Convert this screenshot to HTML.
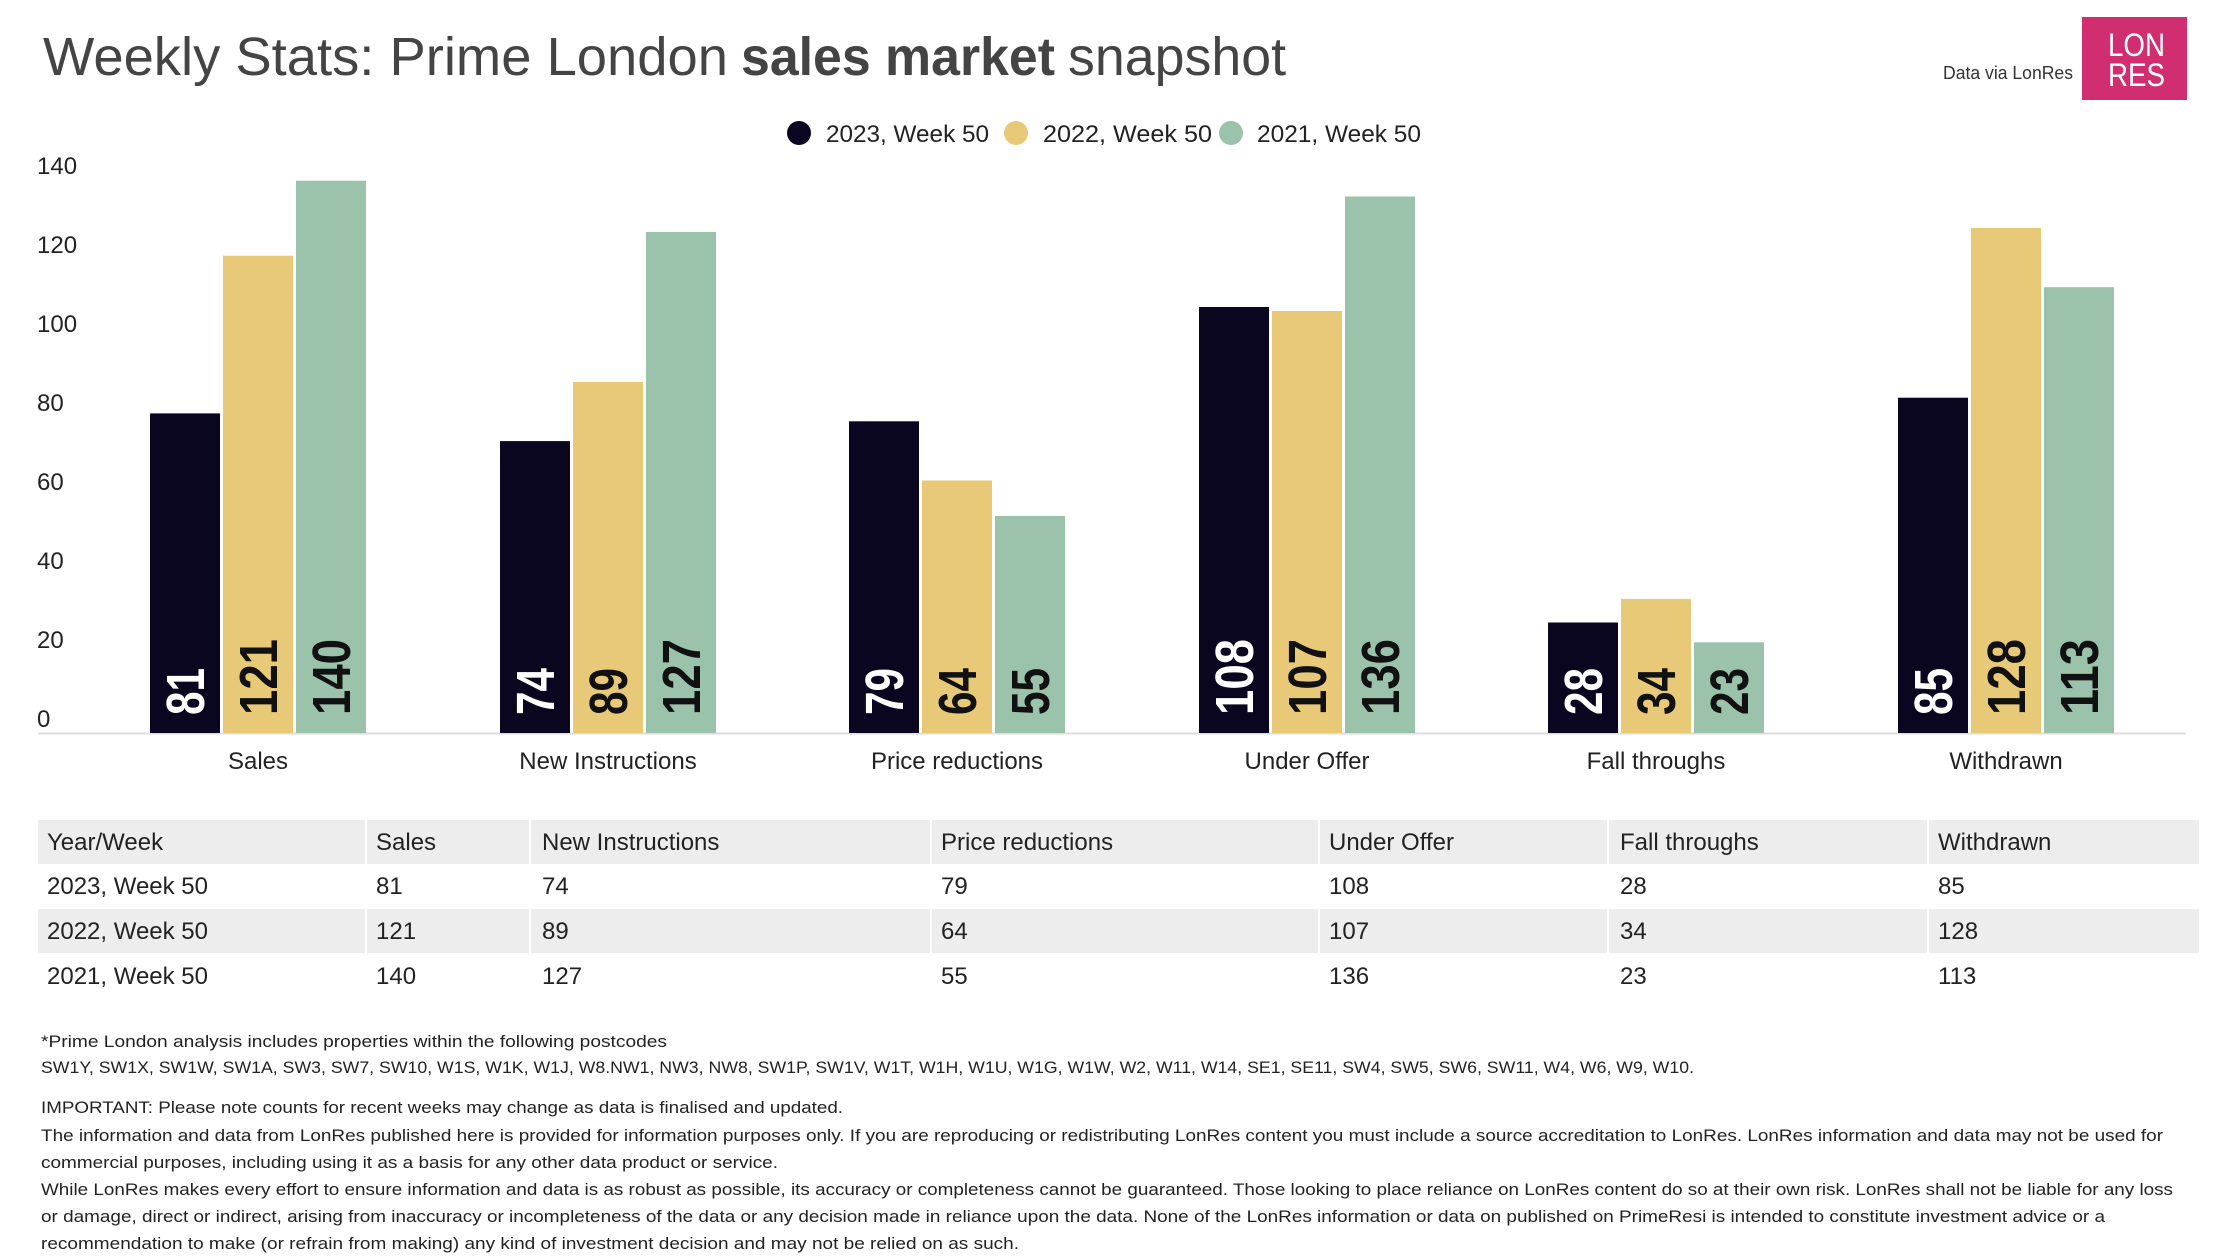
<!DOCTYPE html>
<html><head><meta charset="utf-8"><style>
html,body{margin:0;padding:0;background:#fff;}
svg{display:block;font-family:"Liberation Sans",sans-serif;}
</style></head><body>
<svg width="2222" height="1258" viewBox="0 0 2222 1258" xmlns="http://www.w3.org/2000/svg">
<rect width="2222" height="1258" fill="#fff"/>
<text x="43" y="75" font-size="54" fill="#444" textLength="685" lengthAdjust="spacingAndGlyphs">Weekly Stats: Prime London</text>
<text x="741" y="75" font-size="54" font-weight="bold" fill="#444" textLength="314" lengthAdjust="spacingAndGlyphs">sales market</text>
<text x="1068" y="75" font-size="54" fill="#444" textLength="218" lengthAdjust="spacingAndGlyphs">snapshot</text>
<text x="1943" y="79" font-size="18" fill="#333" textLength="130" lengthAdjust="spacingAndGlyphs">Data via LonRes</text>
<rect x="2082" y="17" width="105" height="83" fill="#d12e72"/>
<text x="2108" y="56" font-size="32" fill="#fff" textLength="57" lengthAdjust="spacingAndGlyphs">LON</text>
<text x="2108" y="86" font-size="32" fill="#fff" textLength="57" lengthAdjust="spacingAndGlyphs">RES</text>
<circle cx="799" cy="133" r="12" fill="#0a0620"/>
<text x="826" y="142" font-size="24" fill="#222" textLength="163" lengthAdjust="spacingAndGlyphs">2023, Week 50</text>
<circle cx="1016" cy="133" r="12" fill="#e8c977"/>
<text x="1043" y="142" font-size="24" fill="#222" textLength="169" lengthAdjust="spacingAndGlyphs">2022, Week 50</text>
<circle cx="1231" cy="133" r="12" fill="#9bc2aa"/>
<text x="1257" y="142" font-size="24" fill="#222" textLength="164" lengthAdjust="spacingAndGlyphs">2021, Week 50</text>
<g font-size="24" fill="#222">
<text x="37" y="174">140</text>
<text x="37" y="253">120</text>
<text x="37" y="332">100</text>
<text x="37" y="411">80</text>
<text x="37" y="490">60</text>
<text x="37" y="569">40</text>
<text x="37" y="648">20</text>
<text x="37" y="727">0</text>
</g>
<line x1="38" y1="733.5" x2="2186" y2="733.5" stroke="#ddd" stroke-width="2"/>
<g>
<rect x="150" y="413.4" width="70" height="319.6" fill="#0a0620"/>
<rect x="223" y="255.7" width="70" height="477.3" fill="#e8c977"/>
<rect x="296" y="180.7" width="70" height="552.3" fill="#9bc2aa"/>
<rect x="500" y="441.1" width="70" height="291.9" fill="#0a0620"/>
<rect x="573" y="381.9" width="70" height="351.1" fill="#e8c977"/>
<rect x="646" y="232" width="70" height="501" fill="#9bc2aa"/>
<rect x="849" y="421.3" width="70" height="311.7" fill="#0a0620"/>
<rect x="922" y="480.5" width="70" height="252.5" fill="#e8c977"/>
<rect x="995" y="516" width="70" height="217" fill="#9bc2aa"/>
<rect x="1199" y="307" width="70" height="426" fill="#0a0620"/>
<rect x="1272" y="311" width="70" height="422" fill="#e8c977"/>
<rect x="1345" y="196.5" width="70" height="536.5" fill="#9bc2aa"/>
<rect x="1548" y="622.5" width="70" height="110.5" fill="#0a0620"/>
<rect x="1621" y="598.9" width="70" height="134.1" fill="#e8c977"/>
<rect x="1694" y="642.3" width="70" height="90.7" fill="#9bc2aa"/>
<rect x="1898" y="397.7" width="70" height="335.3" fill="#0a0620"/>
<rect x="1971" y="228" width="70" height="505" fill="#e8c977"/>
<rect x="2044" y="287.2" width="70" height="445.8" fill="#9bc2aa"/>
</g>
<g font-size="54" font-weight="bold">
<text transform="translate(204,715) rotate(-90)" fill="#fff" textLength="47" lengthAdjust="spacingAndGlyphs">81</text>
<text transform="translate(277,715) rotate(-90)" fill="#111" textLength="76" lengthAdjust="spacingAndGlyphs">121</text>
<text transform="translate(350,715) rotate(-90)" fill="#111" textLength="76" lengthAdjust="spacingAndGlyphs">140</text>
<text transform="translate(554,715) rotate(-90)" fill="#fff" textLength="47" lengthAdjust="spacingAndGlyphs">74</text>
<text transform="translate(627,715) rotate(-90)" fill="#111" textLength="47" lengthAdjust="spacingAndGlyphs">89</text>
<text transform="translate(700,715) rotate(-90)" fill="#111" textLength="76" lengthAdjust="spacingAndGlyphs">127</text>
<text transform="translate(903,715) rotate(-90)" fill="#fff" textLength="47" lengthAdjust="spacingAndGlyphs">79</text>
<text transform="translate(976,715) rotate(-90)" fill="#111" textLength="47" lengthAdjust="spacingAndGlyphs">64</text>
<text transform="translate(1049,715) rotate(-90)" fill="#111" textLength="47" lengthAdjust="spacingAndGlyphs">55</text>
<text transform="translate(1253,715) rotate(-90)" fill="#fff" textLength="76" lengthAdjust="spacingAndGlyphs">108</text>
<text transform="translate(1326,715) rotate(-90)" fill="#111" textLength="76" lengthAdjust="spacingAndGlyphs">107</text>
<text transform="translate(1399,715) rotate(-90)" fill="#111" textLength="76" lengthAdjust="spacingAndGlyphs">136</text>
<text transform="translate(1602,715) rotate(-90)" fill="#fff" textLength="47" lengthAdjust="spacingAndGlyphs">28</text>
<text transform="translate(1675,715) rotate(-90)" fill="#111" textLength="47" lengthAdjust="spacingAndGlyphs">34</text>
<text transform="translate(1748,715) rotate(-90)" fill="#111" textLength="47" lengthAdjust="spacingAndGlyphs">23</text>
<text transform="translate(1952,715) rotate(-90)" fill="#fff" textLength="47" lengthAdjust="spacingAndGlyphs">85</text>
<text transform="translate(2025,715) rotate(-90)" fill="#111" textLength="76" lengthAdjust="spacingAndGlyphs">128</text>
<text transform="translate(2098,715) rotate(-90)" fill="#111" textLength="76" lengthAdjust="spacingAndGlyphs">113</text>
</g>
<g font-size="24" fill="#222" text-anchor="middle">
<text x="258" y="769">Sales</text>
<text x="608" y="769">New Instructions</text>
<text x="957" y="769">Price reductions</text>
<text x="1307" y="769">Under Offer</text>
<text x="1656" y="769">Fall throughs</text>
<text x="2006" y="769">Withdrawn</text>
</g>
<rect x="38" y="820" width="2161" height="44" fill="#ededed"/>
<rect x="38" y="909" width="2161" height="44" fill="#ededed"/>
<g stroke="#fff" stroke-width="2">
<line x1="366" y1="820" x2="366" y2="998"/>
<line x1="530" y1="820" x2="530" y2="998"/>
<line x1="931" y1="820" x2="931" y2="998"/>
<line x1="1319" y1="820" x2="1319" y2="998"/>
<line x1="1608" y1="820" x2="1608" y2="998"/>
<line x1="1928" y1="820" x2="1928" y2="998"/>
</g>
<g font-size="24" fill="#222">
<text x="47" y="850">Year/Week</text><text x="376" y="850">Sales</text><text x="542" y="850">New Instructions</text><text x="941" y="850">Price reductions</text><text x="1329" y="850">Under Offer</text><text x="1620" y="850">Fall throughs</text><text x="1938" y="850">Withdrawn</text>
<text x="47" y="894">2023, Week 50</text><text x="376" y="894">81</text><text x="542" y="894">74</text><text x="941" y="894">79</text><text x="1329" y="894">108</text><text x="1620" y="894">28</text><text x="1938" y="894">85</text>
<text x="47" y="939">2022, Week 50</text><text x="376" y="939">121</text><text x="542" y="939">89</text><text x="941" y="939">64</text><text x="1329" y="939">107</text><text x="1620" y="939">34</text><text x="1938" y="939">128</text>
<text x="47" y="984">2021, Week 50</text><text x="376" y="984">140</text><text x="542" y="984">127</text><text x="941" y="984">55</text><text x="1329" y="984">136</text><text x="1620" y="984">23</text><text x="1938" y="984">113</text>
</g>
<g font-size="17" fill="#222">
<text x="41" y="1047" textLength="626" lengthAdjust="spacingAndGlyphs">*Prime London analysis includes properties within the following postcodes</text>
<text x="41" y="1073" textLength="1653" lengthAdjust="spacingAndGlyphs">SW1Y, SW1X, SW1W, SW1A, SW3, SW7, SW10, W1S, W1K, W1J, W8.NW1, NW3, NW8, SW1P, SW1V, W1T, W1H, W1U, W1G, W1W, W2, W11, W14, SE1, SE11, SW4, SW5, SW6, SW11, W4, W6, W9, W10.</text>
<text x="41" y="1113" textLength="802" lengthAdjust="spacingAndGlyphs">IMPORTANT: Please note counts for recent weeks may change as data is finalised and updated.</text>
<text x="41" y="1141" textLength="2122" lengthAdjust="spacingAndGlyphs">The information and data from LonRes published here is provided for information purposes only. If you are reproducing or redistributing LonRes content you must include a source accreditation to LonRes. LonRes information and data may not be used for</text>
<text x="41" y="1168" textLength="737" lengthAdjust="spacingAndGlyphs">commercial purposes, including using it as a basis for any other data product or service.</text>
<text x="41" y="1195" textLength="2132" lengthAdjust="spacingAndGlyphs">While LonRes makes every effort to ensure information and data is as robust as possible, its accuracy or completeness cannot be guaranteed. Those looking to place reliance on LonRes content do so at their own risk. LonRes shall not be liable for any loss</text>
<text x="41" y="1222" textLength="2064" lengthAdjust="spacingAndGlyphs">or damage, direct or indirect, arising from inaccuracy or incompleteness of the data or any decision made in reliance upon the data. None of the LonRes information or data on published on PrimeResi is intended to constitute investment advice or a</text>
<text x="41" y="1249" textLength="978" lengthAdjust="spacingAndGlyphs">recommendation to make (or refrain from making) any kind of investment decision and may not be relied on as such.</text>
</g>
</svg>
</body></html>
